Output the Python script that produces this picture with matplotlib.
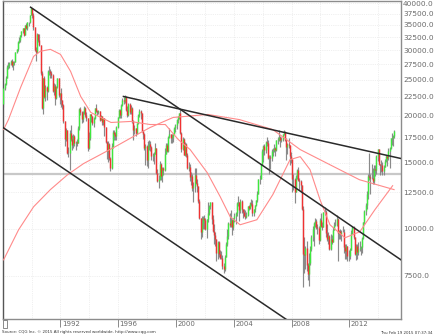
import numpy as np
import matplotlib
matplotlib.use('Agg')
import matplotlib.pyplot as plt
from matplotlib.ticker import NullLocator, MultipleLocator
from matplotlib.transforms import blended_transform_factory
from matplotlib.patches import Rectangle

# monthly bars, Jan 1988 .. Feb 2015
start_year = 1988
first_open = 21564

closes = [
    23720, 24300, 25300, 27100, 27400, 27770, 28000, 27400, 27920, 27900, 29580, 30160,  # 1988
    31580, 31985, 32839, 33713, 34266, 32948, 34954, 34431, 35636, 35549, 37269, 38916,  # 1989
    37189, 34592, 29980, 29584, 33131, 31940, 31036, 25978, 20984, 25194, 22454, 23849,  # 1990
    23293, 26409, 26292, 26111, 25790, 23291, 24121, 22336, 23916, 25222, 22687, 22984,  # 1991
    22023, 21339, 19346, 17391, 18348, 15952, 15910, 18061, 17399, 16767, 17684, 16925,  # 1992
    17024, 16953, 18591, 20919, 20552, 19590, 20380, 21027, 20106, 19703, 16408, 17417,  # 1993
    20229, 19997, 19112, 19725, 20974, 20644, 20448, 20629, 19564, 19990, 19263, 19723,  # 1994
    18650, 17053, 16140, 16807, 15437, 14517, 16678, 18117, 17913, 17655, 18744, 19868,  # 1995
    20813, 20125, 21407, 22041, 21956, 22531, 20693, 20167, 21556, 20467, 21020, 19361,  # 1996
    18330, 18557, 18003, 19151, 20069, 20605, 20331, 18229, 17888, 16459, 16636, 15259,  # 1997
    16628, 16832, 16527, 15641, 15671, 15830, 16379, 14108, 13406, 13564, 14883, 13842,  # 1998
    14499, 14368, 15837, 16702, 16112, 17530, 17862, 17437, 17605, 17942, 18558, 18934,  # 1999
    19540, 19960, 20337, 17974, 16332, 17411, 15727, 16861, 15747, 14539, 14649, 13786,  # 2000
    13844, 12884, 12999, 13934, 13262, 12969, 11861, 10714, 9775, 10366, 10697, 10543,   # 2001
    9997, 10588, 11025, 11493, 11764, 10622, 9878, 9619, 9383, 8640, 9216, 8579,         # 2002
    8340, 8363, 7973, 7831, 8425, 9083, 9563, 10344, 10219, 10560, 10101, 10677,         # 2003
    10784, 11042, 11715, 11762, 11236, 11859, 11326, 11082, 10824, 10771, 10899, 11489,  # 2004
    11388, 11741, 11669, 11009, 11277, 11584, 11900, 12414, 13574, 13607, 14872, 16111,  # 2005
    16650, 16205, 17060, 16906, 15467, 15505, 15457, 16141, 16128, 16399, 16274, 17226,  # 2006
    17383, 17604, 17288, 17400, 17876, 18138, 17249, 16569, 16786, 16738, 15681, 15308,  # 2007
    13592, 13603, 12526, 13850, 14339, 13481, 13377, 13073, 11260, 8577, 8512, 8860,     # 2008
    7994, 7568, 8110, 8828, 9523, 9958, 10357, 10493, 10133, 10035, 9346, 10546,         # 2009
    10198, 10126, 11090, 11057, 9769, 9383, 9537, 8824, 9369, 9202, 9937, 10229,         # 2010
    10238, 10624, 9755, 9850, 9694, 9816, 9833, 8955, 8700, 8988, 8435, 8455,            # 2011
    8803, 9723, 10084, 9521, 8543, 9007, 8695, 8840, 8870, 8928, 9446, 10395,            # 2012
    11139, 11559, 12398, 13861, 13775, 13677, 13668, 13389, 14456, 14328, 15662, 16291,  # 2013
    14915, 14841, 14828, 14304, 14632, 15162, 15621, 15425, 16174, 16414, 17460, 17451,  # 2014
    17674, 18265,                                                                        # 2015
]

highs = [
    23800, 24500, 25500, 27300, 27800, 27950, 28300, 28400, 28100, 28100, 29600, 30200,
    31700, 32500, 32900, 33800, 34300, 34400, 35000, 35400, 35700, 35700, 37300, 38960,
    38700, 37600, 34500, 30500, 33300, 33200, 33200, 31000, 26300, 25300, 25500, 24200,
    24100, 26600, 27200, 26700, 26300, 25900, 24500, 24300, 24100, 25300, 25200, 23100,
    23800, 22100, 21500, 19400, 18600, 18400, 16500, 18300, 18900, 17800, 17900, 17800,
    17200, 17400, 18800, 21000, 21200, 20600, 20600, 21300, 21150, 20500, 19800, 18100,
    20300, 20300, 20000, 19900, 21000, 21550, 20700, 20800, 20600, 20100, 20000, 19800,
    19700, 18700, 17100, 17100, 16900, 15500, 16900, 18300, 18300, 18100, 18800, 19900,
    20900, 20900, 21500, 22300, 22500, 22750, 22600, 21300, 21600, 21700, 21400, 21200,
    19500, 18900, 18600, 19200, 20300, 20900, 20700, 20400, 18400, 18000, 16800, 16700,
    17100, 17300, 17200, 16600, 15900, 16000, 16900, 16400, 14400, 13900, 15200, 15000,
    14600, 14600, 16400, 16900, 16900, 17700, 18600, 17900, 17900, 18000, 18700, 19000,
    19600, 20000, 20400, 20833, 18100, 17600, 17500, 17000, 16900, 15900, 15100, 14900,
    14200, 14000, 13300, 14500, 14500, 13600, 12900, 12000, 10700, 10800, 10800, 10900,
    10700, 10600, 11800, 11600, 11800, 11800, 10900, 10300, 9800, 9400, 9300, 9300,
    8800, 8700, 8500, 8100, 8500, 9200, 10000, 10400, 11000, 11200, 10600, 10700,
    11000, 11100, 11800, 12200, 11800, 12000, 11900, 11300, 11300, 11200, 11100, 11500,
    11600, 11800, 12000, 11900, 11300, 11600, 11900, 12600, 13600, 13900, 14900, 16300,
    16700, 16800, 17100, 17600, 17300, 15700, 15700, 16300, 16400, 16800, 16500, 17300,
    17600, 18300, 17700, 17600, 17900, 18300, 18262, 17500, 16900, 17500, 16700, 16000,
    15200, 14000, 13700, 13900, 14400, 14600, 13700, 13500, 12900, 11500, 9500, 9000,
    9300, 8100, 8600, 9000, 9600, 10200, 10400, 10700, 10600, 10300, 10200, 10700,
    11000, 10400, 11100, 11400, 11200, 10300, 9800, 9600, 9700, 9600, 10100, 10400,
    10600, 10900, 10700, 9900, 10000, 9900, 10200, 10000, 9100, 9100, 9000, 8800,
    8900, 9900, 10200, 10200, 9500, 9100, 9100, 9200, 9300, 9000, 9500, 10400,
    11200, 11700, 12600, 14000, 15942, 14000, 14900, 14500, 14800, 14800, 15700, 16300,
    16200, 14900, 15300, 15100, 14800, 15400, 15700, 15600, 16400, 16500, 17500, 18030,
    17800, 18300,
]

lows = [
    21200, 23400, 24200, 25200, 26700, 26900, 27400, 27100, 26600, 27300, 27800, 29400,
    29900, 31300, 31500, 32600, 33400, 32700, 32900, 34200, 33900, 34800, 35400, 37200,
    36600, 34000, 29800, 28000, 29400, 31500, 30800, 25700, 20900, 20220, 22300, 21900,
    22100, 23200, 25800, 25300, 25200, 23200, 22800, 21450, 22200, 23800, 22500, 21500,
    21100, 20900, 19100, 16600, 17100, 15800, 15500, 14309, 17100, 16200, 16400, 16600,
    16200, 16600, 16900, 18400, 20100, 19200, 19300, 20200, 19900, 19400, 16100, 16300,
    17300, 19300, 18900, 18700, 19600, 20500, 20100, 20200, 19400, 19500, 18900, 18900,
    17700, 16900, 15400, 15100, 15300, 14300, 14400, 16400, 17300, 17300, 17300, 18600,
    19700, 19800, 19700, 21300, 21500, 21600, 20600, 19900, 20000, 20300, 20200, 19200,
    17300, 17900, 17700, 17900, 19000, 19900, 19600, 18100, 17400, 16200, 14800, 14700,
    14500, 16200, 16100, 15300, 15200, 14900, 15800, 14000, 13300, 12880, 13500, 13500,
    13300, 13900, 14300, 15800, 16000, 16000, 17500, 16900, 16900, 17000, 17900, 18100,
    18500, 19200, 19600, 17900, 16000, 16200, 15700, 15600, 15500, 14400, 14300, 13400,
    13100, 12600, 11800, 12500, 13200, 12500, 11700, 10600, 9380, 9500, 10000, 10000,
    9900, 9420, 10400, 10900, 11300, 10300, 9800, 9100, 9000, 8200, 8300, 8400,
    8300, 8300, 7800, 7603, 7700, 8400, 9000, 9400, 10100, 10100, 9600, 9900,
    10400, 10300, 10800, 11500, 10500, 11000, 11000, 10700, 10800, 10600, 10700, 10800,
    11200, 11300, 11500, 10800, 10800, 11100, 11500, 11800, 12400, 13200, 13600, 14800,
    15100, 15700, 15900, 16600, 15400, 14000, 14400, 15200, 15600, 16000, 15600, 16100,
    16800, 17200, 16500, 17000, 17100, 17800, 17100, 15300, 15800, 16400, 14800, 15000,
    12500, 12700, 11700, 12500, 13600, 13400, 12700, 12600, 11200, 6994, 7600, 7800,
    7700, 7300, 7054, 8000, 8700, 9300, 9000, 10100, 10000, 9700, 9100, 9300,
    10100, 9900, 10100, 10900, 9500, 9300, 9100, 8800, 8800, 9100, 9200, 9900,
    10200, 10200, 8200, 9400, 9400, 9300, 9800, 8600, 8300, 8300, 8200, 8200,
    8300, 8800, 9700, 9400, 8500, 8240, 8300, 8500, 8700, 8500, 8600, 9400,
    10300, 10900, 11300, 12000, 13500, 12400, 13600, 13200, 13200, 13800, 14000, 15200,
    14800, 13900, 14200, 13900, 13900, 14600, 15100, 14700, 15300, 14500, 16300, 16700,
    16600, 17500,
]

# moving averages (decimal year, level)
ma_short_t = [1988.06, 1988.4, 1989.24, 1990.14, 1990.6, 1991.3, 1992.0, 1992.7, 1993.4,
              1994.1, 1995.5, 1996.85, 1998.2, 1999.26, 2000.16, 2000.98, 2002.16, 2003.06,
              2003.75, 2004.44, 2005.6, 2006.7, 2007.9, 2008.6, 2009.28, 2009.97, 2010.66,
              2011.7, 2012.73, 2013.77, 2015.0]
ma_short = [18400, 19570, 23840, 28850, 29760, 30130, 29210, 26310, 22550,
            20440, 19220, 19340, 18980, 18980, 17300, 16270, 14120, 12180,
            10770, 10250, 10570, 12330, 15300, 15580, 14380, 11960, 10250,
            9460, 9820, 11240, 13030]

ma_long_t = [1988.06, 1989.1, 1990.14, 1991.3, 1992.5, 1993.6, 1994.77, 1995.94, 1997.05,
             1998.2, 1999.8, 2002.2, 2004.4, 2006.7, 2008.6, 2010.65, 2012.7, 2015.1]
ma_long = [8260, 9940, 11450, 12720, 13950, 14930, 15780, 16680, 17630,
           18630, 19820, 20190, 19560, 18400, 16270, 14830, 13520, 12720]

# hand drawn trend lines: (start year, start level, end year, end level)
trend_lines = [
    (1989.93, 39030, 2015.58, 8260),
    (1988.02, 18630, 2007.7, 5707),
    (1996.36, 22550, 2015.58, 15400),
]
support_level = 14000

y_levels = [7500, 10000, 12500, 15000, 17500, 20000, 22500, 25000, 27500,
            30000, 32500, 35000, 37500, 40000]
x_labels = [1992, 1996, 2000, 2004, 2008, 2012]


def plot():
    c = np.array(closes, dtype=float)
    o = np.concatenate([[first_open], c[:-1]])
    h = np.maximum(np.array(highs, dtype=float), np.maximum(o, c))
    l = np.minimum(np.array(lows, dtype=float), np.minimum(o, c))
    n = len(c)
    t = start_year + (np.arange(n) + 0.5) / 12.0
    up = c >= o

    fig = plt.figure(figsize=(4.35, 3.35), dpi=100)
    ax = fig.add_axes([3 / 435, 16 / 335, 398 / 435, 318 / 335])
    ax.set_yscale('log')

    ax.axhline(support_level, color='#c8c8c8', lw=1.6, zorder=1)

    ax.vlines(t, l, h, color='#8a8a8a', lw=0.85, zorder=2)
    ax.vlines(t[up], o[up], c[up], color='#3ee83e', lw=1.0, zorder=3)
    ax.vlines(t[~up], o[~up], c[~up], color='#f03232', lw=1.0, zorder=3)

    ax.plot(ma_short_t, ma_short, color='#ff8a8a', lw=0.8, zorder=4)
    ax.plot(ma_long_t, ma_long, color='#ff8a8a', lw=0.8, zorder=4)

    for x0, y0, x1, y1 in trend_lines:
        ax.plot([x0, x1], [y0, y1], color='#2a2a2a', lw=1.1, zorder=5)

    ax.set_xlim(1988.02, 2015.58)
    ax.set_ylim(5743, 40550)

    ax.yaxis.tick_right()
    ax.set_yticks(y_levels)
    ax.set_yticklabels(['%.1f' % v for v in y_levels])
    ax.yaxis.set_minor_locator(NullLocator())
    ax.tick_params(axis='y', length=0, pad=1.5, labelsize=5.3, labelcolor='#6a6a6a')

    ax.set_xticks(x_labels)
    ax.set_xticklabels([])
    ax.xaxis.set_minor_locator(MultipleLocator(2))
    ax.tick_params(axis='x', which='major', direction='out', length=5.8, width=0.7,
                   color='#8a8a8a')
    ax.tick_params(axis='x', which='minor', length=0)
    trans = blended_transform_factory(ax.transData, ax.transAxes)
    for yr in x_labels:
        ax.text(yr + 0.1, -0.006, str(yr), transform=trans, ha='left', va='top',
                fontsize=5, color='#6a6a6a')

    ax.grid(True, which='both', axis='x', ls=':', color='#e2e2e2', lw=0.5)
    ax.grid(True, which='major', axis='y', ls=':', color='#e2e2e2', lw=0.5)
    ax.set_axisbelow(True)

    for side in ['left', 'top', 'right', 'bottom']:
        ax.spines[side].set_color('#8c8c8c')
        ax.spines[side].set_linewidth(1.0)
    ax.spines['left'].set_color('#555555')

    fig.patches.append(Rectangle((3 / 435, 7 / 335), 4 / 435, 8 / 335, fill=False,
                                 edgecolor='#777777', lw=0.6, transform=fig.transFigure))
    fig.text(2 / 435, 2.5 / 335, 'Source: CQG Inc. \u00a9 2015 All rights reserved worldwide. http://www.cqg.com',
             fontsize=2.9, color='#333333', ha='left', va='center')
    fig.text(433 / 435, 2.5 / 335, 'Thu Feb 19 2015 07:37:34', fontsize=2.9,
             color='#333333', ha='right', va='center')

    fig.savefig('out.png', dpi=100)


plot()
